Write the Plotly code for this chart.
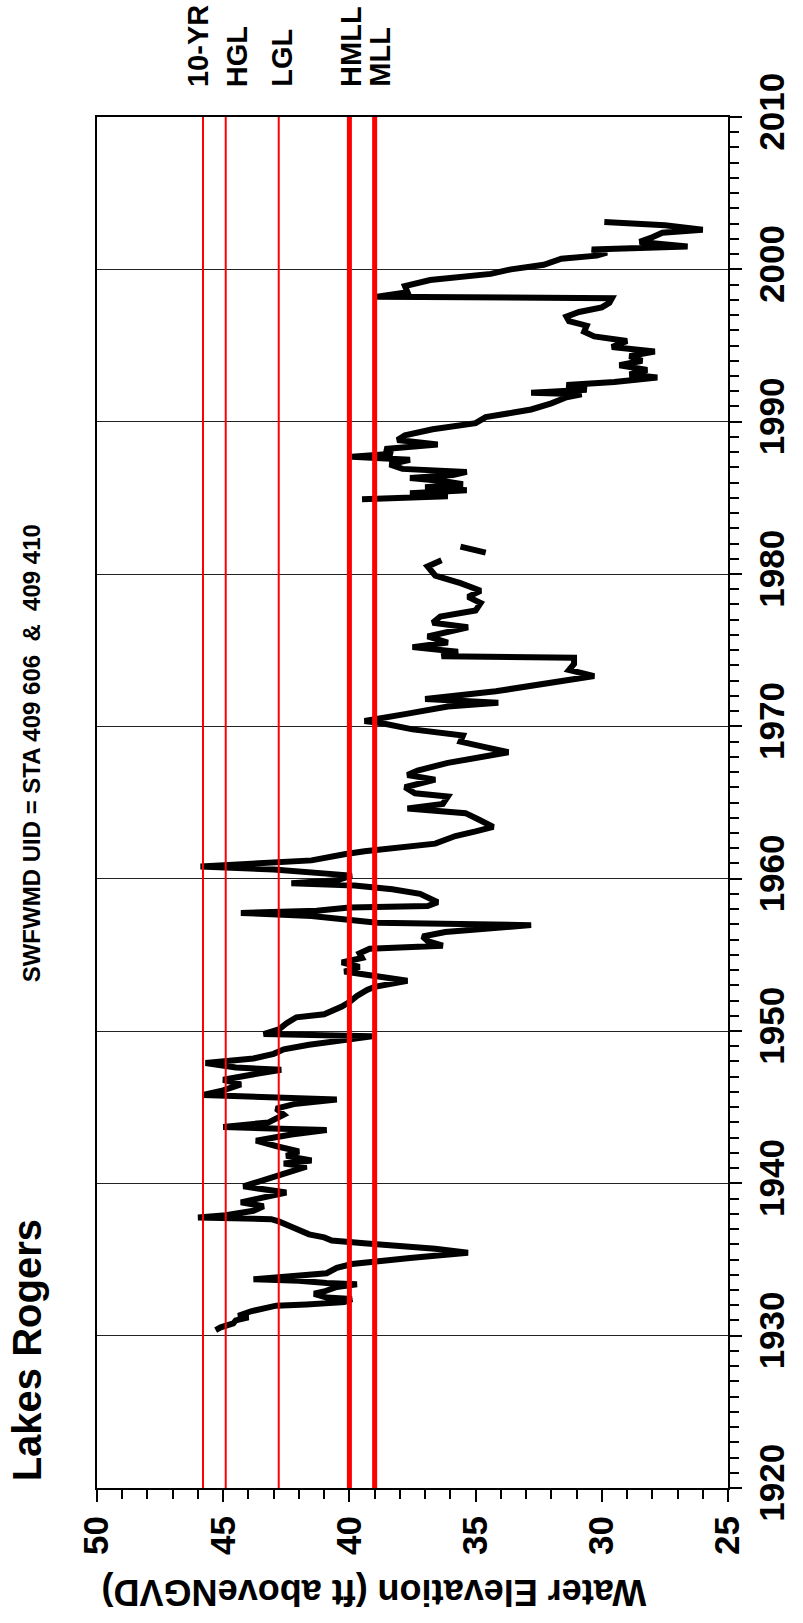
import plotly.graph_objects as go

# ---- Lake stage record (year, water elevation in ft above NGVD) ----
years_a = [1930.37, 1930.55, 1930.8, 1931.0, 1931.2, 1931.3, 1931.6, 1931.8, 1931.97, 1932.05,
           1932.2, 1932.4, 1932.5, 1932.75, 1932.9, 1933.2, 1933.38, 1933.45, 1933.6, 1933.7,
           1933.85, 1934.1, 1934.45, 1934.7, 1935.1, 1935.44, 1935.7, 1935.95, 1936.05, 1936.25,
           1936.45, 1936.65, 1936.9, 1937.15, 1937.5, 1937.65, 1937.75, 1937.9, 1938.2, 1938.5,
           1938.75, 1939.0, 1939.4, 1939.8, 1940.2, 1940.5, 1940.8, 1941.1, 1941.3, 1941.5,
           1941.8, 1942.1, 1942.4, 1942.8, 1943.2, 1943.5, 1943.7, 1944.0, 1944.5, 1944.9,
           1945.2, 1945.5, 1945.8, 1946.1, 1946.5, 1946.8, 1947.1, 1947.45, 1947.6, 1947.9,
           1948.2, 1948.5, 1948.8, 1949.1, 1949.4, 1949.65, 1949.8, 1950.1, 1950.5, 1950.9,
           1951.1, 1951.3, 1951.6, 1951.9, 1952.3, 1952.7, 1952.9, 1953.3, 1953.6, 1953.9,
           1954.2, 1954.5, 1954.8, 1955.1, 1955.4, 1955.6, 1955.9, 1956.2, 1956.5, 1956.95,
           1957.1, 1957.3, 1957.55, 1957.75, 1957.9, 1958.1, 1958.2, 1958.45, 1958.7, 1959.0,
           1959.3, 1959.55, 1959.7, 1959.9, 1960.2, 1960.45, 1960.6, 1960.8, 1961.0, 1961.2,
           1961.6, 1961.8, 1962.3, 1962.8, 1963.1, 1963.4, 1963.9, 1964.3, 1964.6, 1964.9,
           1965.4, 1965.6, 1966.0, 1966.5, 1966.8, 1967.1, 1967.6, 1967.9, 1968.3, 1968.7,
           1969.0, 1969.4, 1969.8, 1970.2, 1970.35, 1970.8, 1971.3, 1971.55, 1971.8, 1972.3,
           1972.8, 1973.1, 1973.3, 1973.7, 1974.1, 1974.5, 1974.6, 1974.9, 1975.2, 1975.5,
           1975.9, 1976.5, 1976.8, 1977.2, 1977.6, 1978.1, 1978.5, 1978.9, 1979.4, 1979.9,
           1980.5, 1980.9]
elev_a = [45.3, 45.1, 44.6, 44.5, 44.0, 44.4, 43.9, 43.3, 42.9, 41.7,
          40.2, 39.9, 40.9, 41.4, 41.0, 40.5, 39.7, 40.9, 42.0, 43.8,
          42.5, 40.9, 40.5, 39.9, 37.6, 35.3, 36.6, 38.9, 39.3, 40.7,
          41.0, 41.6, 41.9, 42.3, 42.8, 43.1, 46.0, 44.9, 43.8, 43.4,
          44.3, 43.5, 42.5, 44.2, 43.4, 42.8, 42.3, 41.7, 42.6, 41.5,
          42.5, 42.0, 42.8, 43.7, 42.3, 40.9, 45.0, 43.2, 42.6, 42.9,
          42.2, 40.5, 45.8, 45.0, 44.3, 45.0, 44.0, 42.7, 44.5, 45.7,
          43.8, 43.0, 42.6, 41.6, 40.2, 39.1, 43.4, 42.8, 42.5, 42.1,
          41.0, 40.7, 40.3, 40.0, 39.7, 39.3, 39.0, 37.7, 38.8, 40.2,
          39.6, 40.3, 39.5, 39.6, 39.2, 36.3, 36.9, 37.1, 36.2, 32.8,
          38.9, 40.0, 41.5, 44.3, 41.3, 40.0, 36.9, 36.5, 36.8, 37.2,
          38.3, 39.8, 42.3, 40.5, 39.9, 41.5, 43.0, 45.9, 43.0, 41.5,
          40.2, 39.4, 36.6, 35.8, 35.0, 34.3, 34.9, 35.4, 37.7, 36.3,
          36.1, 37.4, 37.8, 36.6, 37.7, 37.3, 36.1, 35.2, 33.7, 34.8,
          35.6, 35.5, 37.5, 38.7, 39.4, 37.8, 36.1, 34.1, 37.0, 34.2,
          32.1, 31.1, 30.3, 31.3, 31.1, 31.1, 36.35, 35.7, 37.5, 36.1,
          36.9, 35.3, 36.7, 36.4, 35.0, 34.8, 35.3, 34.8, 35.6, 36.6,
          36.9, 36.35]

years_b = [1981.4, 1981.8]
elev_b = [34.6, 35.6]

years_c = [1984.9, 1985.1, 1985.3, 1985.5, 1985.7, 1985.9, 1986.1, 1986.3, 1986.5, 1986.7,
           1986.9, 1987.2, 1987.5, 1987.7, 1987.9, 1988.2, 1988.5, 1988.8, 1989.1, 1989.5,
           1989.9, 1990.3, 1990.6, 1990.8, 1991.2, 1991.6, 1991.8, 1991.9, 1992.1, 1992.4,
           1992.6, 1992.9, 1993.1, 1993.4, 1993.7, 1994.0, 1994.3, 1994.6, 1994.9, 1995.3,
           1995.6, 1995.9, 1996.3, 1996.6, 1996.9, 1997.2, 1997.5, 1997.8, 1998.1, 1998.2,
           1998.5, 1998.9, 1999.3, 1999.7, 2000.0, 2000.3, 2000.7, 2000.9, 2001.1, 2001.3,
           2001.5, 2001.8, 2002.1, 2002.4, 2002.6, 2002.9, 2003.1]
elev_c = [39.5, 36.1, 37.6, 35.35, 37.0, 35.5, 36.3, 37.6, 35.9, 35.35,
          37.9, 38.4, 37.6, 39.9, 38.3, 38.6, 36.5, 38.1, 37.8, 36.7,
          35.0, 34.6, 33.5, 32.8, 32.0, 31.4, 30.8, 32.8, 30.6, 31.4,
          29.5, 27.8, 28.9, 28.2, 29.3, 28.4, 28.9, 27.9, 29.6, 29.0,
          30.3, 30.7, 30.6, 31.3, 31.4, 30.9, 30.0, 29.7, 29.6, 38.9,
          37.7, 37.8, 36.8, 34.4, 33.6, 32.3, 31.6, 30.2, 29.8, 30.4,
          26.6, 28.5, 28.0, 27.6, 26.0, 27.5, 29.9]

# ---- Reference levels (ft above NGVD) ----
level_names = ["10-YR", "HGL", "LGL", "HMLL", "MLL"]
level_values = [45.8, 44.9, 42.8, 40.0, 39.0]
level_widths = [2, 2, 2, 5, 5]
label_shift = [-5, 11, 3, 1, 5]

elev_ticks = [50, 45, 40, 35, 30, 25]
year_ticks = [1920, 1930, 1940, 1950, 1960, 1970, 1980, 1990, 2000, 2010]

FONT = "Liberation Sans, Arial, sans-serif"

# plot-area geometry in pixels
W, H = 803, 1623
L, R, T, B = 97, 72, 117, 135
PW, PH = W - L - R, H - T - B


def px_x(p):
    return (p - L) / PW


def px_y(p):
    return (H - B - p) / PH


fig = go.Figure()

stage_x = elev_a + [None] + elev_b + [None] + elev_c
stage_y = years_a + [None] + years_b + [None] + years_c
fig.add_trace(go.Scatter(
    x=stage_x, y=stage_y, mode="lines", connectgaps=False,
    line=dict(color="black", width=6), hoverinfo="skip", showlegend=False))

for v, w in zip(level_values, level_widths):
    fig.add_trace(go.Scatter(
        x=[v, v], y=[year_ticks[0], year_ticks[-1]], mode="lines",
        line=dict(color="#ff0000", width=w), hoverinfo="skip", showlegend=False))

annotations = []
for name, v, s in zip(level_names, level_values, label_shift):
    annotations.append(dict(
        text=f"<b>{name}</b>", x=v, xref="x", y=px_y(89), yref="paper",
        xanchor="center", yanchor="bottom", xshift=s, textangle=-90, showarrow=False,
        font=dict(family=FONT, size=29, color="black")))

annotations.append(dict(
    text="<b>Lakes Rogers</b>", x=px_x(27), y=px_y(1483), xref="paper", yref="paper",
    xanchor="center", yanchor="bottom", textangle=-90, showarrow=False,
    font=dict(family=FONT, size=40, color="black")))
annotations.append(dict(
    text="<b>SWFWMD UID = STA 409 606  &  409 410</b>", x=px_x(31), y=px_y(753),
    xref="paper", yref="paper", xanchor="center", yanchor="middle", textangle=-90,
    showarrow=False, font=dict(family=FONT, size=24, color="black")))
annotations.append(dict(
    text="<b>Water Elevation (ft aboveNGVD)</b>", x=px_x(375), y=px_y(1592),
    xref="paper", yref="paper", xanchor="center", yanchor="middle", textangle=180,
    showarrow=False, font=dict(family=FONT, size=36, color="black")))

fig.update_layout(
    width=W, height=H,
    margin=dict(l=L, r=R, t=T, b=B, pad=0),
    paper_bgcolor="white", plot_bgcolor="white",
    showlegend=False,
    annotations=annotations,
    font=dict(family=FONT, color="black"),
    xaxis=dict(
        range=[50, 25], tickvals=elev_ticks, ticktext=[str(t) for t in elev_ticks],
        showgrid=False, zeroline=False,
        showline=True, linecolor="black", linewidth=2, mirror=True,
        ticks="outside", ticklen=12, tickwidth=2, tickcolor="black",
        minor=dict(dtick=1, ticks="outside", ticklen=9, tickwidth=2, tickcolor="black",
                   showgrid=False),
        tickangle=-90, tickfont=dict(family=FONT, size=35, color="black", weight="bold"),
    ),
    yaxis=dict(
        range=[1920, 2010], tickvals=year_ticks, ticktext=[str(t) for t in year_ticks],
        side="right",
        showgrid=True, gridcolor="#222222", gridwidth=1, zeroline=False,
        showline=True, linecolor="black", linewidth=2, mirror=True,
        ticks="outside", ticklen=12, tickwidth=2, tickcolor="black",
        minor=dict(dtick=1, ticks="outside", ticklen=9, tickwidth=2, tickcolor="black",
                   showgrid=False),
        tickangle=-90, tickfont=dict(family=FONT, size=35, color="black", weight="bold"),
    ),
)

fig.write_html("out.html")
